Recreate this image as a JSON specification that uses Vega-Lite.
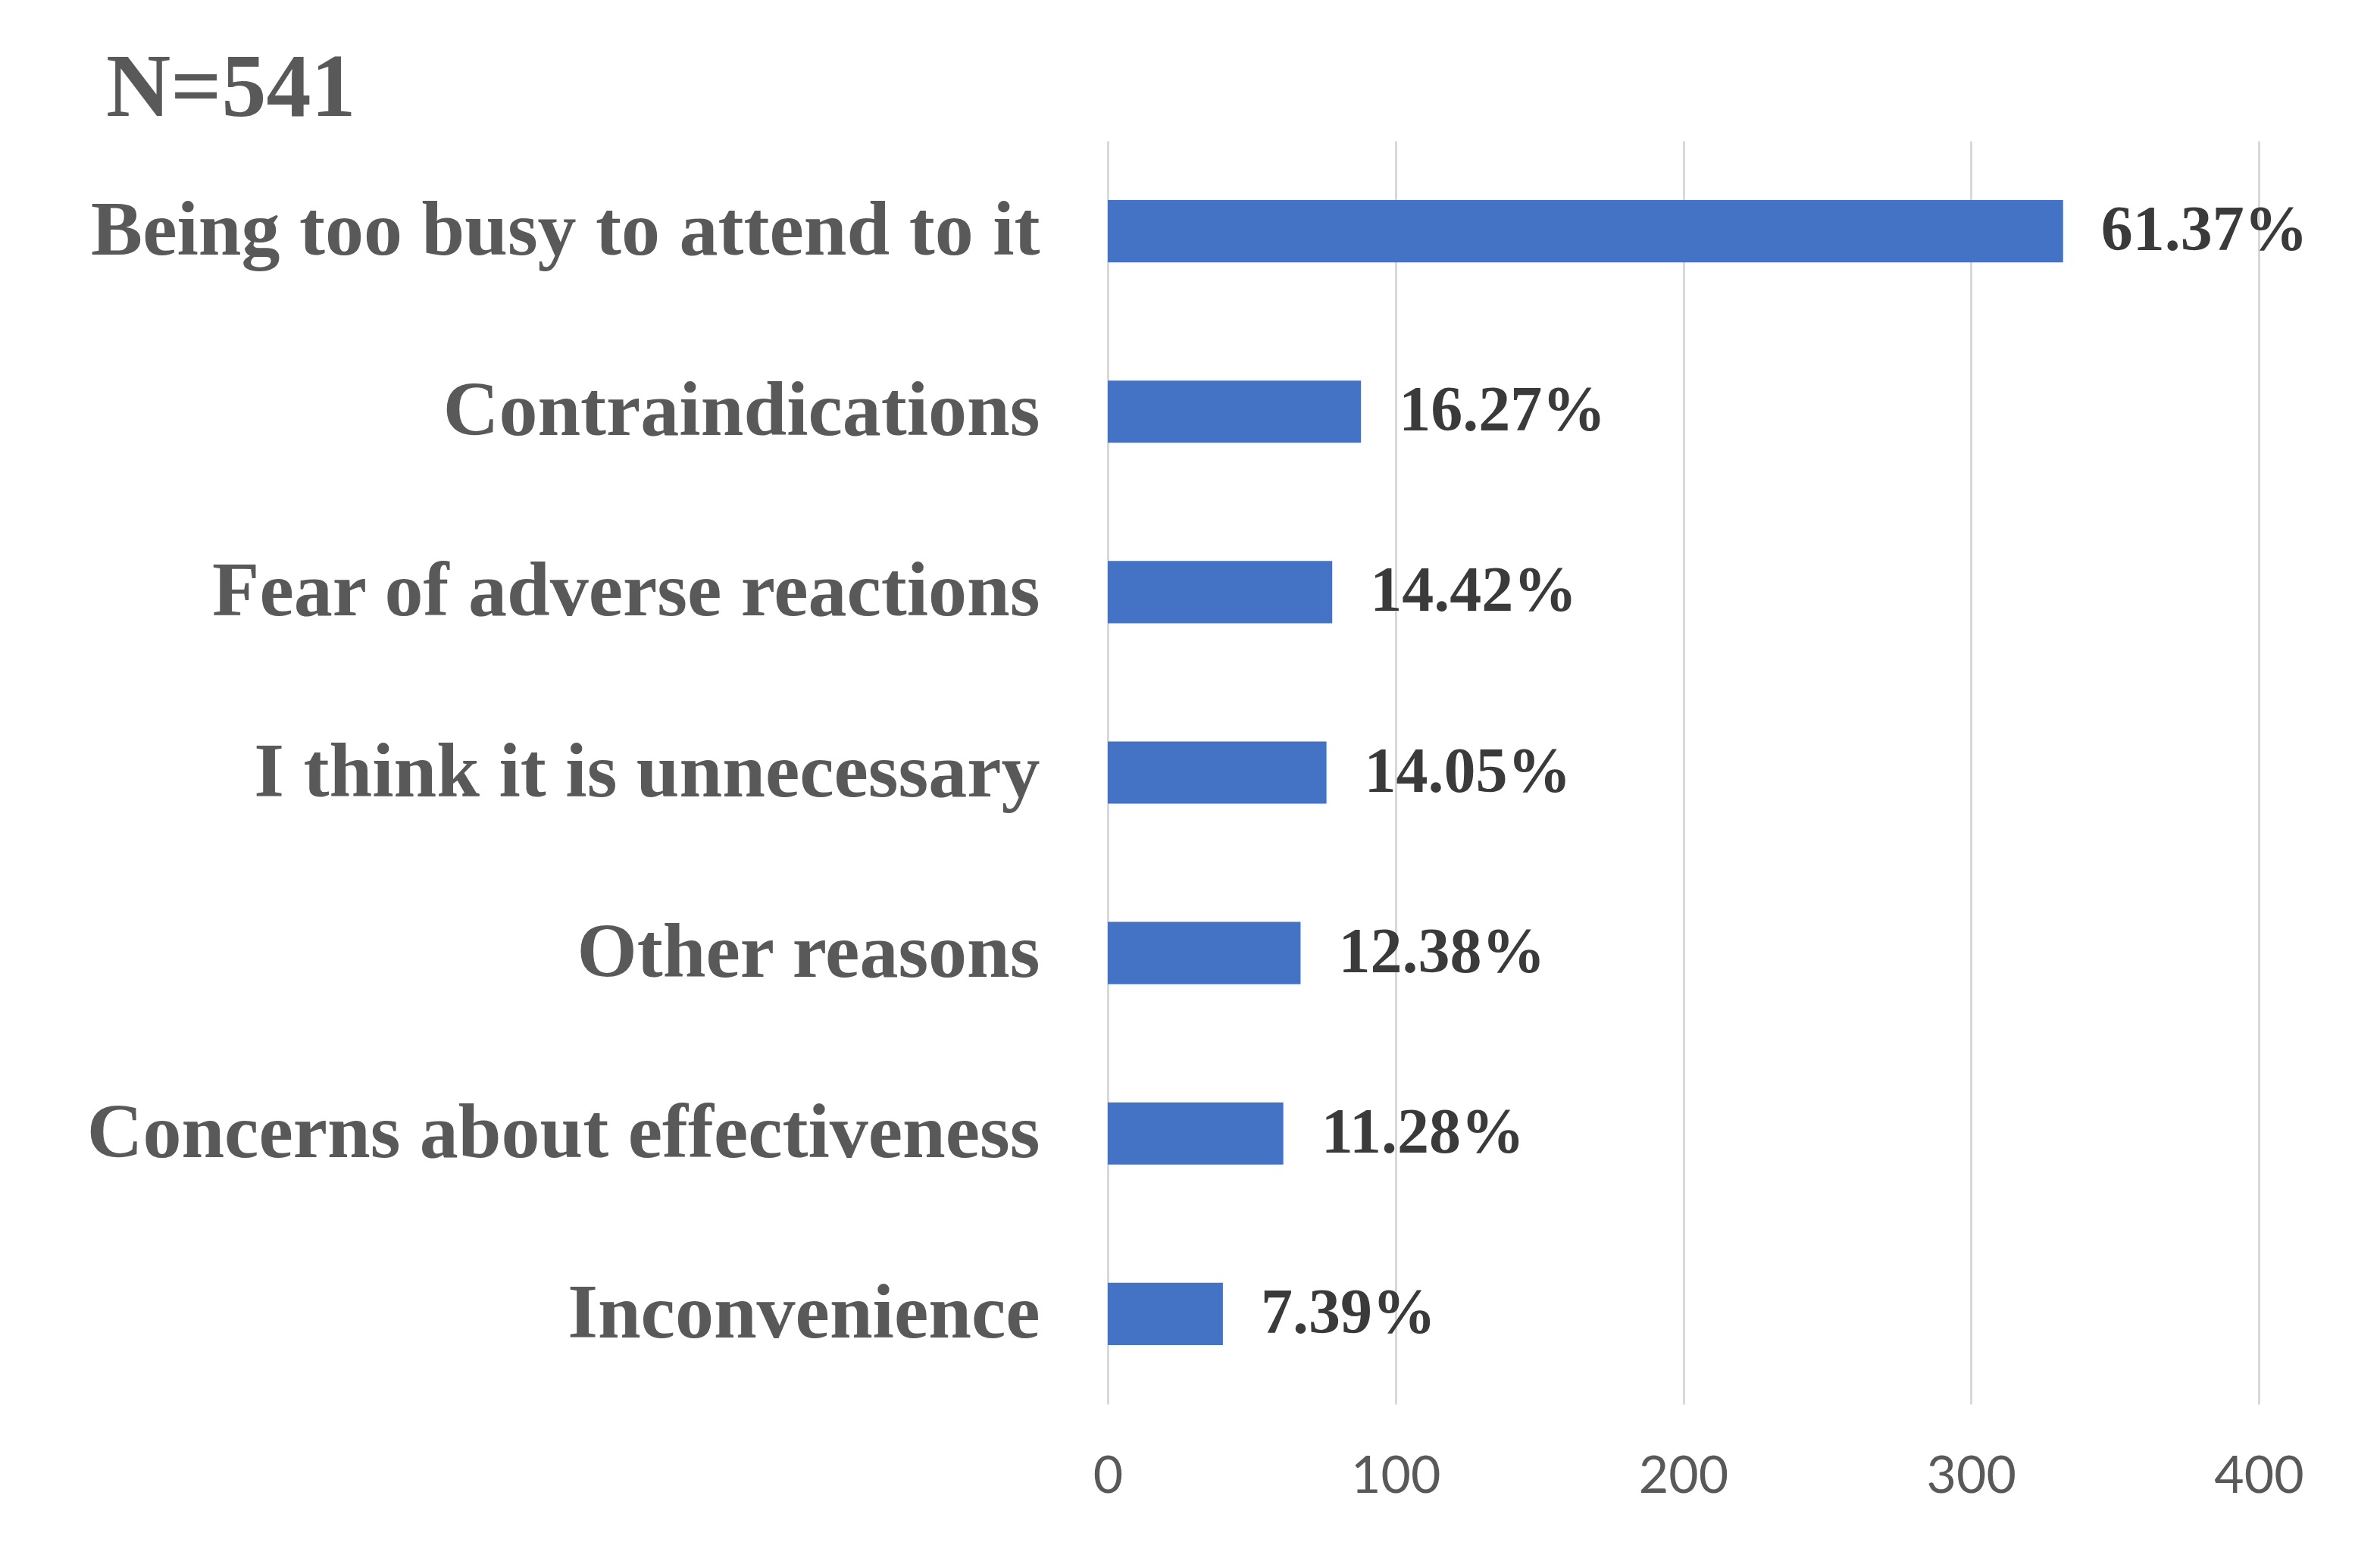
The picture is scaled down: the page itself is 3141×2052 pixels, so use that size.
{
  "$schema": "https://vega.github.io/schema/vega-lite/v6.json",
  "autosize": {"type": "none"},
  "width": 1519,
  "height": 1667,
  "padding": {"left": 1462, "top": 186, "right": 160, "bottom": 199},
  "background": "white",
  "title": {
    "text": "N=541",
    "anchor": "start",
    "frame": "group",
    "dx": -1322,
    "offset": 8,
    "font": "Liberation Serif",
    "fontWeight": "bold",
    "fontSize": 118,
    "color": "#595959"
  },
  "data": {
    "values": [
      {"reason": "Being too busy to attend to it", "count": 332, "pct": 0.6137},
      {"reason": "Contraindications", "count": 88, "pct": 0.1627},
      {"reason": "Fear of adverse reactions", "count": 78, "pct": 0.1442},
      {"reason": "I think it is unnecessary", "count": 76, "pct": 0.1405},
      {"reason": "Other reasons", "count": 67, "pct": 0.1238},
      {"reason": "Concerns about effectiveness", "count": 61, "pct": 0.1128},
      {"reason": "Inconvenience", "count": 40, "pct": 0.0739}
    ]
  },
  "encoding": {
    "y": {
      "field": "reason",
      "type": "nominal",
      "sort": null,
      "title": null,
      "scale": {"paddingInner": 0.655, "paddingOuter": 0.3275},
      "axis": {
        "domain": false,
        "ticks": false,
        "labelFont": "Liberation Serif",
        "labelFontWeight": "bold",
        "labelFontSize": 102,
        "labelColor": "#595959",
        "labelPadding": 90,
        "labelLimit": 2000
      }
    },
    "x": {
      "field": "count",
      "type": "quantitative",
      "title": null,
      "scale": {"domain": [0, 400], "nice": false},
      "axis": {
        "values": [0, 100, 200, 300, 400],
        "domain": false,
        "ticks": false,
        "grid": true,
        "gridColor": "#d9d9d9",
        "gridWidth": 3,
        "labelFont": "Lato",
        "labelFontSize": 68,
        "labelColor": "#595959",
        "labelPadding": 62,
        "labelFlush": false
      }
    }
  },
  "layer": [
    {"mark": {"type": "bar", "color": "#4472C4"}},
    {
      "mark": {
        "type": "text",
        "align": "left",
        "baseline": "middle",
        "dx": 50,
        "font": "Liberation Serif",
        "fontWeight": "bold",
        "fontSize": 84,
        "color": "#3a3a3a"
      },
      "encoding": {
        "text": {"field": "pct", "type": "quantitative", "format": ".2%"}
      }
    }
  ],
  "config": {"view": {"stroke": null}}
}
